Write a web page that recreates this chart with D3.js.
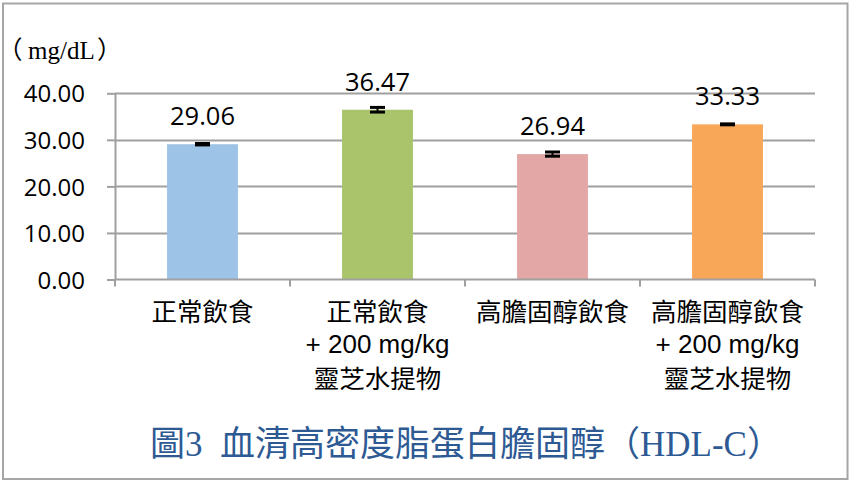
<!DOCTYPE html>
<html><head><meta charset="utf-8">
<script src="https://cdn.jsdelivr.net/npm/d3@7"></script>
<style>body{margin:0;background:#fff}svg{display:block}.halt{font-feature-settings:"halt" 1}</style>
</head><body>
<script>
const categories = [
  ["正常飲食"],
  ["正常飲食", "+ 200 mg/kg", "靈芝水提物"],
  ["高膽固醇飲食"],
  ["高膽固醇飲食", "+ 200 mg/kg", "靈芝水提物"]
];
const values = [29.06, 36.47, 26.94, 33.33];
const errors = [0.15, 0.5, 0.45, 0.1];
const colors = ["#9DC3E6", "#A9C46B", "#E3A8A6", "#F8A759"];
const yTicks = [0, 10, 20, 30, 40];
const unitParts = ["（", "mg/dL", "）"];
const title = "圖3  血清高密度脂蛋白膽固醇（HDL-C）";

const W = 850, H = 482;
const svg = d3.select("body").append("svg").attr("width", W).attr("height", H);

svg.append("rect").attr("x", 3).attr("y", 3.5).attr("width", 844.5).attr("height", 475.5)
  .attr("fill", "#fff").attr("stroke", "#A6A6A6").attr("stroke-width", 2);

const keys = categories.map((c, i) => "c" + i);
const x = d3.scaleBand().domain(keys).range([115, 815]).padding(0);
const y = d3.scaleLinear().domain([0, 40]).range([279.5, 93.3]);
const bw = x.bandwidth();
const barW = bw * 0.405;
const grid = "#A0A0A0";

// gridlines
svg.append("g").selectAll("line").data(yTicks.filter(t => t > 0)).join("line")
  .attr("x1", 115).attr("x2", 815)
  .attr("y1", d => Math.round(y(d)) + 0.5).attr("y2", d => Math.round(y(d)) + 0.5)
  .attr("stroke", grid).attr("stroke-width", 2);

// y axis
const yAxis = svg.append("g").attr("transform", "translate(115,0)")
  .call(d3.axisLeft(y).tickValues(yTicks).tickFormat(d3.format(".2f")).tickSizeInner(8).tickSizeOuter(0).tickPadding(22));
yAxis.select(".domain").attr("stroke", grid).attr("stroke-width", 2);
yAxis.selectAll(".tick line").attr("stroke", grid).attr("stroke-width", 2);
yAxis.selectAll(".tick text").attr("font-family", "'Open Sans', sans-serif").attr("font-size", 24).attr("fill", "#000").attr("dy", "0.36em");

// bars
svg.append("g").selectAll("rect").data(values).join("rect")
  .attr("x", (d, i) => x(keys[i]) + (bw - barW) / 2)
  .attr("y", d => y(d))
  .attr("width", barW)
  .attr("height", d => y(0) - y(d))
  .attr("fill", (d, i) => colors[i]);

// x axis
const bounds = keys.map(k => x(k)).concat([x.range()[1]]);
svg.append("line").attr("x1", 115).attr("x2", 815).attr("y1", y(0)).attr("y2", y(0))
  .attr("stroke", grid).attr("stroke-width", 2);
svg.append("g").selectAll("line").data(bounds).join("line")
  .attr("x1", d => d).attr("x2", d => d).attr("y1", y(0)).attr("y2", y(0) + 7)
  .attr("stroke", grid).attr("stroke-width", 2);

// error bars
const eb = svg.append("g").attr("stroke", "#000").attr("stroke-width", 3);
values.forEach((v, i) => {
  const cx = x(keys[i]) + bw / 2;
  const y1 = y(v + errors[i]), y2 = y(v - errors[i]);
  eb.append("line").attr("x1", cx).attr("x2", cx).attr("y1", y1).attr("y2", y2).attr("stroke-width", 2);
  eb.append("line").attr("x1", cx - 7.5).attr("x2", cx + 7.5).attr("y1", y1).attr("y2", y1);
  eb.append("line").attr("x1", cx - 7.5).attr("x2", cx + 7.5).attr("y1", y2).attr("y2", y2);
});

// value labels
svg.append("g").selectAll("text").data(values).join("text")
  .attr("x", (d, i) => x(keys[i]) + bw / 2)
  .attr("y", d => y(d) - 19)
  .attr("text-anchor", "middle")
  .attr("font-family", "'Open Sans', sans-serif").attr("font-size", 25.5).attr("fill", "#000")
  .text(d => d3.format(".2f")(d));

// category labels (one text per line)
const lineY = [321, 353, 388];
const cl = svg.append("g").attr("fill", "#000").attr("text-anchor", "middle");
categories.forEach((lines, i) => {
  lines.forEach((ln, j) => {
    const latin = /^[\x00-\x7F]+$/.test(ln);
    cl.append("text").attr("x", x(keys[i]) + bw / 2).attr("y", lineY[j])
      .attr("font-family", latin ? "'Liberation Sans', sans-serif" : "'Noto Sans CJK TC', sans-serif")
      .attr("font-size", latin ? 26 : 25.5)
      .text(ln);
  });
});

// unit label
const ut = svg.append("text").attr("y", 59)
  .attr("font-family", "'Liberation Serif', serif").attr("font-size", 25).attr("fill", "#000");
ut.append("tspan").attr("class", "halt").attr("x", 10).attr("font-family", "'Noto Sans CJK TC', serif").text(unitParts[0]);
ut.append("tspan").attr("x", 28).text(unitParts[1]);
ut.append("tspan").attr("class", "halt").attr("x", 97).attr("font-family", "'Noto Sans CJK TC', serif").text(unitParts[2]);

// title
svg.append("text").attr("x", 150).attr("y", 456)
  .attr("font-family", "'Liberation Serif', 'Noto Sans CJK TC', serif").attr("font-size", 35)
  .attr("fill", "#2E5A94").attr("xml:space", "preserve").style("white-space", "pre").text(title);
</script>
</body></html>
